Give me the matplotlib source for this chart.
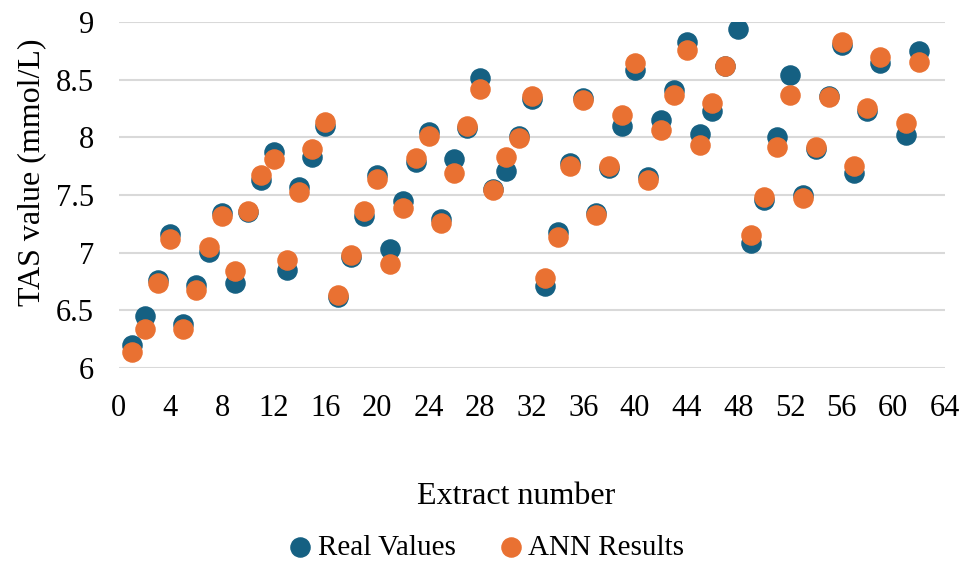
import matplotlib.pyplot as plt
import numpy as np

plt.rcParams["font.family"] = ["Liberation Serif", "DejaVu Serif"]

# extract numbers 1..62 (no point at 60)
extract = np.arange(1, 63)
real_values = [6.20, 6.45, 6.76, 7.16, 6.38, 6.72, 7.01, 7.34, 6.74, 7.35,
               7.63, 7.87, 6.85, 7.57, 7.83, 8.10, 6.62, 6.96, 7.32, 7.67,
               7.03, 7.45, 7.79, 8.05, 7.29, 7.81, 8.08, 8.51, 7.55, 7.71,
               8.01, 8.33, 6.71, 7.18, 7.78, 8.34, 7.34, 7.73, 8.10, 8.58,
               7.66, 8.15, 8.41, 8.83, 8.03, 8.23, 8.62, 8.94, 7.08, 7.46,
               8.00, 8.54, 7.50, 7.90, 8.36, 8.80, 7.69, 8.23, 8.64, np.nan,
               8.02, 8.75]
ann_results = [6.14, 6.34, 6.74, 7.12, 6.34, 6.68, 7.05, 7.32, 6.84, 7.36,
               7.67, 7.81, 6.94, 7.53, 7.90, 8.13, 6.63, 6.98, 7.36, 7.64,
               6.90, 7.39, 7.82, 8.01, 7.26, 7.69, 8.10, 8.42, 7.54, 7.83,
               7.99, 8.36, 6.78, 7.14, 7.75, 8.32, 7.33, 7.75, 8.19, 8.64,
               7.63, 8.06, 8.37, 8.76, 7.93, 8.30, 8.62, np.nan, 7.15, 7.48,
               7.92, 8.37, 7.47, 7.92, 8.35, 8.83, 7.75, 8.25, 8.70, np.nan,
               8.12, 8.65]

blue = "#156082"
orange = "#E97132"

fig = plt.figure(figsize=(9.66, 5.62), dpi=100)
ax = fig.add_axes([0.123, 0.345, 0.855, 0.616])

ax.scatter(extract, real_values, s=190, color=blue, label="Real Values", zorder=3)
ax.scatter(extract, ann_results, s=190, color=orange, label="ANN Results", zorder=4)

ax.set_xlim(0, 64)
ax.set_ylim(6, 9)
ax.set_xticks(np.arange(0, 65, 4))
ax.set_yticks(np.arange(6, 9.01, 0.5))
ax.set_yticklabels(["6", "6.5", "7", "7.5", "8", "8.5", "9"])
ax.yaxis.grid(True, color="#d9d9d9", linewidth=1.5, zorder=0)
ax.set_axisbelow(True)
for s in ax.spines.values():
    s.set_visible(False)
ax.tick_params(length=0, labelsize=22)
ax.tick_params(axis="x", pad=19)
ax.tick_params(axis="y", pad=18)

ax.set_ylabel("TAS value (mmol/L)", fontsize=23)
ax.yaxis.set_label_coords(-0.088, 0.566)
ax.set_xlabel("Extract number", fontsize=23)
ax.xaxis.set_label_coords(0.481, -0.33)

fig.legend(*ax.get_legend_handles_labels(), loc="lower center",
           bbox_to_anchor=(0.502, -0.045), ncol=2, frameon=False, fontsize=21,
           handlelength=1.0, handletextpad=0.1, columnspacing=1.4,
           markerscale=1.0)

fig.savefig("out.png", dpi=100)
